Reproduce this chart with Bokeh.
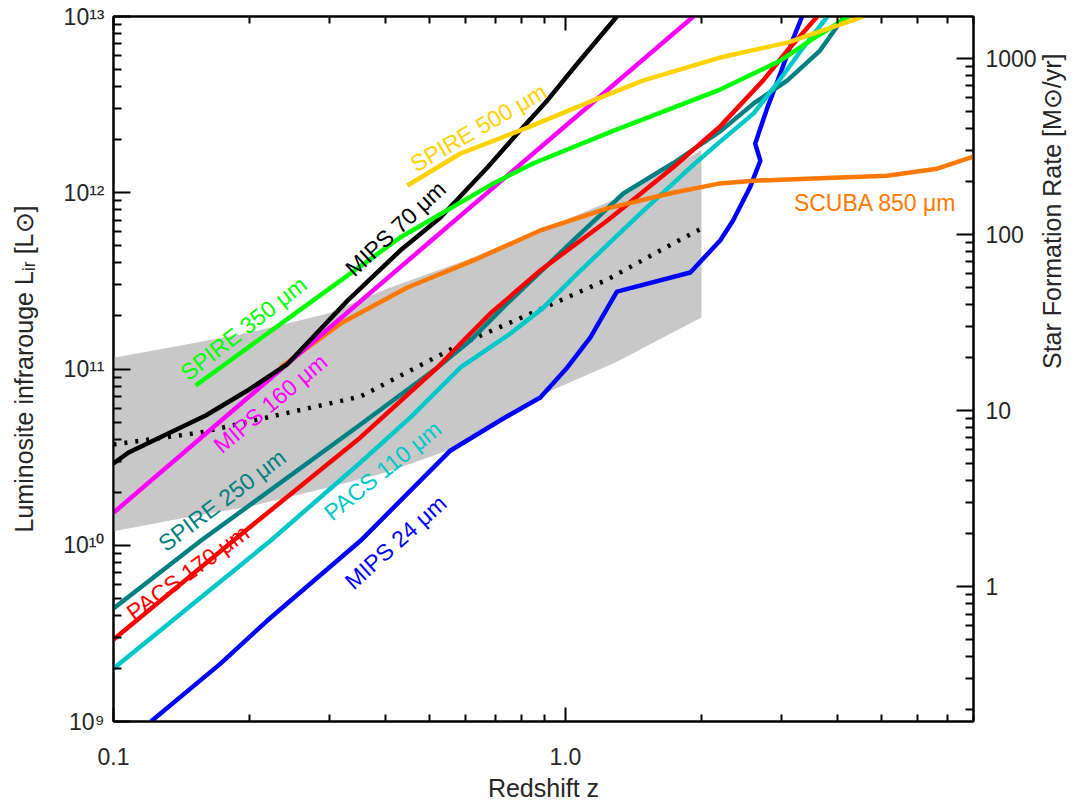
import math
from bokeh.plotting import figure
from bokeh.models import (Range1d, LogScale, LogAxis, FixedTicker,
                          CustomJSTickFormatter, ColumnDataSource)
from bokeh.core.properties import value
from bokeh.embed import file_html
from bokeh.resources import INLINE

# ---------------- data ----------------
z_mips24 = [0.121, 0.1725, 0.219, 0.352, 0.557, 0.729, 0.880, 1.01, 1.136, 1.30,
            1.89, 2.20, 2.35, 2.56, 2.70, 2.63, 2.80, 2.99, 3.18, 3.34]
L_mips24 = [1.0e9, 2.13e9, 3.74e9, 1.06e10, 3.45e10, 5.24e10, 6.89e10, 1.02e11, 1.51e11, 2.75e11,
            3.53e11, 5.36e11, 6.96e11, 1.07e12, 1.52e12, 1.90e12, 3.05e12, 4.75e12, 7.31e12, 1.0e13]

z_mips70 = [0.1, 0.108, 0.160, 0.198, 0.243, 0.330, 0.431, 0.529, 0.672, 0.783, 0.912, 1.063, 1.30]
L_mips70 = [2.91e10, 3.36e10, 5.45e10, 7.55e10, 1.07e11, 2.45e11, 4.70e11, 7.24e11, 1.39e12,
            2.17e12, 3.34e12, 5.41e12, 1.0e13]

z_mips160 = [0.1, 0.2, 0.5, 1.0, 1.92]
L_mips160 = [1.53e10, 7.0e10, 5.24e11, 2.39e12, 1.0e13]

z_pacs110 = [0.1, 0.2225, 0.352, 0.454, 0.586, 0.7556, 0.894, 1.08, 1.466, 1.89, 2.20, 2.61, 2.94, 3.36, 3.80]
L_pacs110 = [2.0e9, 1.06e10, 2.95e10, 5.31e10, 1.02e11, 1.59e11, 2.23e11, 3.62e11, 7.63e11, 1.39e12,
             1.95e12, 2.82e12, 4.17e12, 6.67e12, 1.0e13]

z_pacs170 = [0.1, 0.184, 0.352, 0.521, 0.595, 0.683, 0.880, 1.239, 1.73, 2.20, 2.74, 3.10, 3.61]
L_pacs170 = [2.92e9, 1.06e10, 4.09e10, 1.02e11, 1.45e11, 2.07e11, 3.62e11, 6.96e11, 1.39e12, 2.38e12,
             4.34e12, 6.41e12, 1.0e13]

z_spire250 = [0.1, 0.156, 0.352, 0.521, 0.616, 0.744, 1.041, 1.344, 1.73, 2.20, 2.61, 3.10, 3.66, 4.14]
L_spire250 = [4.38e9, 1.06e10, 4.84e10, 1.02e11, 1.45e11, 2.36e11, 5.36e11, 9.91e11, 1.47e12, 2.23e12,
              3.21e12, 4.34e12, 6.41e12, 1.0e13]

z_spire350 = [0.152, 0.2825, 0.431, 0.693, 0.850, 1.28, 2.20, 2.99, 3.48, 4.23]
L_spire350 = [8.06e10, 2.55e11, 5.57e11, 1.13e12, 1.47e12, 2.25e12, 3.85e12, 5.62e12, 7.3e12, 1.0e13]

z_spire500 = [0.447, 0.586, 0.824, 1.153, 1.488, 2.20, 3.10, 4.56]
L_spire500 = [1.10e12, 1.67e12, 2.34e12, 3.34e12, 4.34e12, 5.85e12, 7.11e12, 1.0e13]

z_scuba850 = [0.234, 0.318, 0.447, 0.626, 0.880, 1.239, 1.73, 2.20, 2.61, 3.66, 5.15, 6.65, 8.03]
L_scuba850 = [1.02e11, 1.81e11, 2.90e11, 4.13e11, 6.11e11, 8.15e11, 1.0e12, 1.13e12, 1.17e12,
              1.21e12, 1.25e12, 1.37e12, 1.61e12]

z_median = [0.1, 0.156, 0.234, 0.352, 0.586, 0.880, 1.239, 1.73, 2.0]
L_median = [3.73e10, 4.36e10, 5.52e10, 6.98e10, 1.38e11, 2.18e11, 3.22e11, 5.15e11, 6.27e11]

z_band = [0.1, 0.15, 0.2, 0.3, 0.4, 0.6, 0.9, 1.3, 2.0]
L_band_hi = [1.16e11, 1.40e11, 1.61e11, 2.07e11, 2.83e11, 4.13e11, 6.27e11, 9.27e11, 1.74e12]
L_band_lo = [1.2e10, 1.46e10, 1.66e10, 2.13e10, 2.59e10, 3.73e10, 7.26e10, 1.10e11, 1.96e11]

label_text = ["SPIRE 500 \u03bcm", "MIPS 70 \u03bcm", "SPIRE 350 \u03bcm", "MIPS 160 \u03bcm",
              "SPIRE 250 \u03bcm", "PACS 170 \u03bcm", "PACS 110 \u03bcm", "MIPS 24 \u03bcm",
              "SCUBA 850 \u03bcm"]
label_z = [0.642, 0.421, 0.194, 0.2225, 0.174, 0.146, 0.394, 0.421, 4.85]
label_L = [2.34e12, 6.27e11, 1.70e11, 6.37e10, 1.80e10, 7.0e9, 2.65e10, 1.04e10, 8.8e11]
label_angle_deg = [30, 43, 38, 40, 37, 36, 39, 42, 0]

x_major = [0.1, 1.0]
x_minor = [0.2, 0.3, 0.4, 0.5, 0.6, 0.7, 0.8, 0.9, 2.0, 3.0, 4.0, 5.0, 6.0, 7.0, 8.0]
y_major = [1e9, 1e10, 1e11, 1e12, 1e13]
sfr_major = [1.0, 10.0, 100.0, 1000.0]
SFR_PER_LIR = 1.72e-10   # Kennicutt conversion used for the right axis

x_title = "Redshift z"
y_title = "Luminosite infrarouge L\u1d62\u1d63 [L\u2299]"
sfr_title = "Star Formation Rate [M\u2299/yr]"

# ---------------- styling ----------------
C_BLUE = "#0000ff"
C_BLACK = "#000000"
C_MAGENTA = "#ff00ff"
C_CYAN = "#00c8c8"
C_RED = "#ff0000"
C_TEAL = "#008080"
C_GREEN = "#00ff00"
C_YELLOW = "#ffd200"
C_ORANGE = "#ff7800"
C_BAND = "#c8c8c8"
TXT = "#262626"
FONT = "Liberation Sans"

W, H = 1082, 805
ML, MR, MT, MB = 113, 108, 16, 84

p = figure(width=W, height=H, x_axis_type="log", y_axis_type="log",
           x_range=Range1d(0.1, 8.0), y_range=Range1d(1e9, 1e13),
           output_backend="svg", toolbar_location=None,
           min_border_left=ML, min_border_right=MR, min_border_top=MT, min_border_bottom=MB)
p.extra_y_ranges = {"sfr": Range1d(1e9 * SFR_PER_LIR, 1e13 * SFR_PER_LIR)}
p.extra_y_scales = {"sfr": LogScale()}
p.xgrid.visible = False
p.ygrid.visible = False
p.outline_line_color = "black"
p.outline_line_width = 2
p.background_fill_color = "white"
p.border_fill_color = "white"


def minor_log(majors, lo, hi):
    out = set()
    for m in majors:
        for k in range(2, 10):
            for v in (m * k, m * k / 10.0):
                if lo < v < hi:
                    out.add(v)
    return sorted(out)


y_minor = minor_log(y_major, 1e9, 1e13)
sfr_minor = minor_log(sfr_major, 1e9 * SFR_PER_LIR, 1e13 * SFR_PER_LIR)


def style_axis(ax, tin=16, tmin=8):
    ax.axis_line_width = 2
    ax.axis_line_color = "black"
    ax.major_tick_in = tin
    ax.major_tick_out = 0
    ax.minor_tick_in = tmin
    ax.minor_tick_out = 0
    ax.major_tick_line_width = 2
    ax.minor_tick_line_width = 2
    ax.major_tick_line_color = "black"
    ax.minor_tick_line_color = "black"
    ax.major_label_text_font = FONT
    ax.major_label_text_font_size = "23px"
    ax.major_label_text_color = TXT
    ax.axis_label_text_font = FONT
    ax.axis_label_text_font_size = "25px"
    ax.axis_label_text_font_style = "normal"
    ax.axis_label_text_color = TXT


# bottom axis
xa = p.xaxis[0]
xa.ticker = FixedTicker(ticks=x_major, minor_ticks=x_minor)
xa.formatter = CustomJSTickFormatter(code="return tick.toFixed(1);")
style_axis(xa, 14, 7)
xa.major_label_standoff = 26
xa.axis_label = x_title
xa.axis_label_standoff = 6

# top axis (ticks only)
ta = LogAxis(ticker=FixedTicker(ticks=x_major, minor_ticks=x_minor),
             formatter=CustomJSTickFormatter(code="return '';"))
style_axis(ta, 14, 7)
ta.major_label_text_font_size = "0px"
ta.major_label_standoff = 0
p.add_layout(ta, "above")

# left axis
ya = p.yaxis[0]
ya.ticker = FixedTicker(ticks=y_major, minor_ticks=y_minor)
ya.formatter = CustomJSTickFormatter(code="""
const e = Math.round(Math.log10(tick));
const sup = {"0":"\u2070","1":"\u00b9","2":"\u00b2","3":"\u00b3","4":"\u2074",
             "5":"\u2075","6":"\u2076","7":"\u2077","8":"\u2078","9":"\u2079"};
return "10" + String(e).split("").map(function(c){ return sup[c]; }).join("");
""")
style_axis(ya, 17, 8)
ya.major_label_standoff = 9
ya.axis_label = y_title
ya.axis_label_standoff = 22

# right axis (star formation rate)
ra = LogAxis(y_range_name="sfr", ticker=FixedTicker(ticks=sfr_major, minor_ticks=sfr_minor),
             formatter=CustomJSTickFormatter(code="return tick.toFixed(0);"))
style_axis(ra, 17, 8)
ra.major_label_standoff = 12
ra.axis_label = sfr_title
ra.axis_label_standoff = 12
try:
    ra.axis_label_orientation = math.pi / 2
except Exception:
    pass
p.add_layout(ra, "right")

# ---------------- glyphs ----------------
p.varea(x=z_band, y1=L_band_lo, y2=L_band_hi, fill_color=C_BAND, fill_alpha=1.0)
p.line(z_median, L_median, line_color="black", line_width=4.5, line_dash="3 8")

series = [
    (z_mips24, L_mips24, C_BLUE),
    (z_spire250, L_spire250, C_TEAL),
    (z_pacs170, L_pacs170, C_RED),
    (z_pacs110, L_pacs110, C_CYAN),
    (z_scuba850, L_scuba850, C_ORANGE),
    (z_mips160, L_mips160, C_MAGENTA),
    (z_mips70, L_mips70, C_BLACK),
    (z_spire350, L_spire350, C_GREEN),
    (z_spire500, L_spire500, C_YELLOW),
]
for zs, Ls, col in series:
    p.line(zs, Ls, line_color=col, line_width=4.5, line_join="round")

label_colors = [C_YELLOW, C_BLACK, C_GREEN, C_MAGENTA, C_TEAL, C_RED, C_CYAN, C_BLUE, C_ORANGE]
lsrc = ColumnDataSource(dict(x=label_z, y=label_L, text=label_text,
                             angle=[math.radians(a) for a in label_angle_deg],
                             color=label_colors))
p.text(x="x", y="y", text="text", angle="angle", text_color="color", source=lsrc,
       text_font=value(FONT), text_font_size=value("23px"),
       text_align="center", text_baseline="middle")

with open("out.html", "w", encoding="utf-8") as f:
    f.write(file_html(p, INLINE))
